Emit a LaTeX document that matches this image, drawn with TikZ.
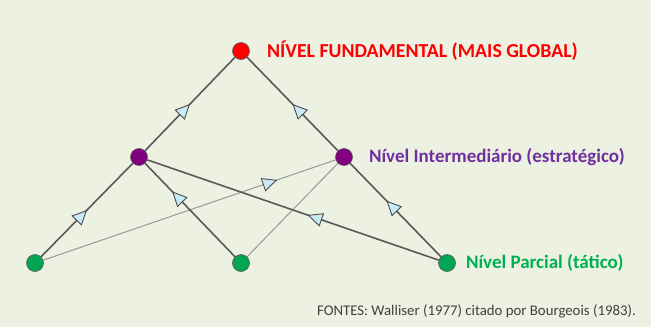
\documentclass[tikz,border=0pt]{standalone}
\usepackage{fontspec}
\setmainfont{Carlito}
\usepackage{xcolor}
\usetikzlibrary{arrows.meta,positioning,decorations.markings}

\definecolor{bgpaper}{RGB}{237,241,226}
\definecolor{globalred}{RGB}{255,0,0}
\definecolor{stratpurple}{RGB}{112,48,160}
\definecolor{tactgreen}{RGB}{0,176,80}
\definecolor{dotpurple}{RGB}{128,0,128}
\definecolor{dotgreen}{RGB}{0,166,81}
\definecolor{tipfill}{RGB}{200,236,245}

\begin{document}
\begin{tikzpicture}[x=1pt, y=-1pt,
    level/.style={circle, draw=black!65, line width=0.6pt, minimum size=17pt, inner sep=0pt},
    levellabel/.style={font=\bfseries\fontsize{19}{21}\selectfont, inner sep=0pt, anchor=west},
    strong/.style={draw=black!65, line width=1.6pt},
    faint/.style={draw=black!40, line width=1pt},
    midtip/.style={postaction={decorate}, decoration={markings,
        mark=at position #1 with {\arrow[line width=0.9pt, draw=black!70]{Triangle[length=15pt, width=14pt, fill=tipfill]}}}}
]

% background
\fill[bgpaper] (0,0) rectangle (651,327);

% levels
\node[level, fill=globalred] (top) at (241,51) {};
\node[level, fill=dotpurple] (midL) at (139,157) {};
\node[level, fill=dotpurple] (midR) at (344,157) {};
\node[level, fill=dotgreen] (botL) at (35,263) {};
\node[level, fill=dotgreen] (botM) at (241,263) {};
\node[level, fill=dotgreen] (botR) at (447,263) {};

% connections
\draw[faint] (botM) -- (midR);
\draw[faint, midtip=0.8] (botL) -- (midR);
\draw[strong, midtip=0.5] (botL) -- (midL);
\draw[strong, midtip=0.7] (botM) -- (midL);
\draw[strong, midtip=0.45] (botR) -- (midL);
\draw[strong, midtip=0.6] (botR) -- (midR);
\draw[strong, midtip=0.5] (midL) -- (top);
\draw[strong, midtip=0.5] (midR) -- (top);

% labels
\node[levellabel, font=\bfseries\fontsize{19.8}{21}\selectfont, text=globalred, right=17pt of top] (toplabel) {NÍVEL FUNDAMENTAL (MAIS GLOBAL)};
\node[levellabel, text=stratpurple, right=16pt of midR] (midlabel) {Nível Intermediário (estratégico)};
\node[levellabel, text=tactgreen, right=10pt of botR] (botlabel) {Nível Parcial (tático)};
\node[font=\fontsize{14.8}{16}\selectfont, text=black!75, anchor=east, inner sep=0pt] (source) at (636,311) {FONTES: Walliser (1977) citado por Bourgeois (1983).};

\end{tikzpicture}
\end{document}
